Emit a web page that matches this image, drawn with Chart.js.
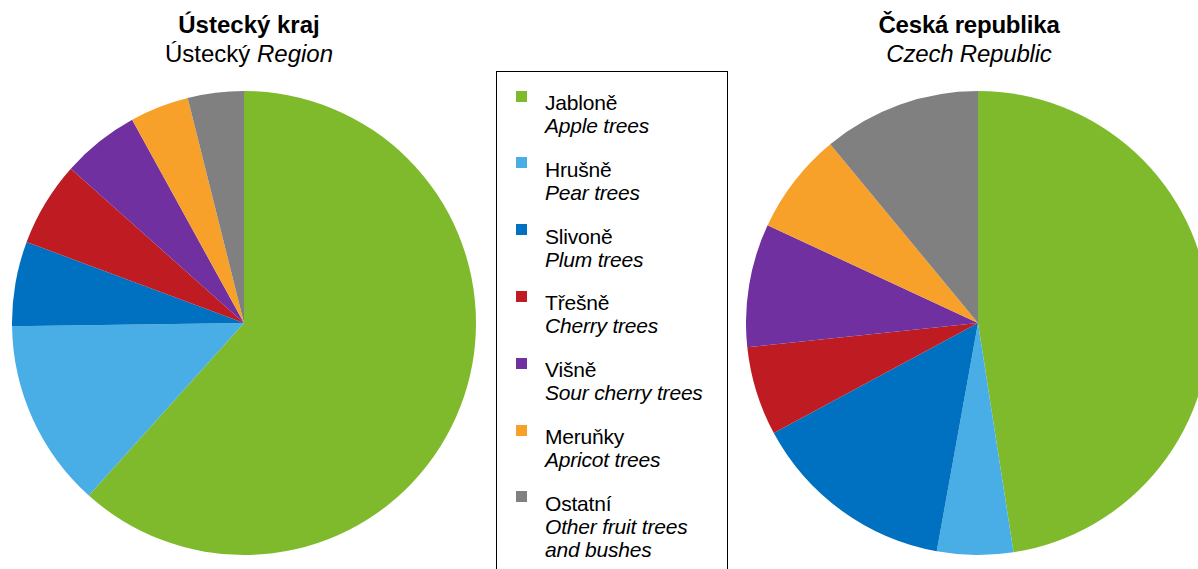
<!DOCTYPE html>
<html>
<head>
<meta charset="utf-8">
<script src="https://cdn.jsdelivr.net/npm/chart.js@4"></script>
<style>
  html, body { margin:0; padding:0; background:#fff; }
  body { width:1198px; height:569px; overflow:hidden; position:relative; font-family:"Liberation Sans", Arial, sans-serif; color:#000; }
  .title { position:absolute; width:400px; text-align:center; font-size:24px; line-height:29px; }
  .title b { font-weight:bold; }
  .pie { position:absolute; top:91px; }
  #legend { position:absolute; left:496px; top:71px; width:232px; height:520px; border:1.5px solid #000; box-sizing:border-box; }
  .item { position:absolute; left:48px; font-size:21px; line-height:23px; white-space:nowrap; letter-spacing:-0.2px; }
  .sw { position:absolute; left:19px; width:11px; height:11px; }
</style>
</head>
<body>
<div class="title" style="left:49px; top:10px;"><b>Ústecký kraj</b><br>Ústecký <i>Region</i></div>
<div class="title" style="left:769px; top:10px; letter-spacing:-0.2px;"><b>Česká republika</b><br><i>Czech Republic</i></div>
<canvas id="c1" class="pie" width="464" height="464" style="left:12px;"></canvas>
<canvas id="c2" class="pie" width="464" height="464" style="left:746px;"></canvas>
<div id="legend"></div>
<script>
const categoriesCz = ["Jabloně", "Hrušně", "Slivoně", "Třešně", "Višně", "Meruňky", "Ostatní"];
const categoriesEn = ["Apple trees", "Pear trees", "Plum trees", "Cherry trees", "Sour cherry trees", "Apricot trees", "Other fruit trees<br>and bushes"];
const usteckyValues = [61.6, 13.1, 5.9, 5.9, 5.4, 4.1, 3.9];
const czechValues = [47.6, 5.3, 14.3, 6.2, 8.6, 7.1, 11.0];
const sliceColors = ["#7FBA2D", "#4AAEE6", "#0070C0", "#BE1B22", "#7030A0", "#F7A12A", "#808080"];

function makePie(id, values) {
  new Chart(document.getElementById(id), {
    type: 'pie',
    data: {
      labels: categoriesCz,
      datasets: [{ data: values, backgroundColor: sliceColors, borderWidth: 0, hoverOffset: 0, offset: 0 }]
    },
    options: {
      responsive: false,
      animation: false,
      layout: { padding: 0 },
      plugins: { legend: { display: false }, tooltip: { enabled: false }, title: { display: false } },
      events: []
    }
  });
}
makePie('c1', usteckyValues);
makePie('c2', czechValues);

const legend = document.getElementById('legend');
categoriesCz.forEach((cz, i) => {
  const top = 18.5 + i * 66.8;
  const sw = document.createElement('div');
  sw.className = 'sw';
  sw.style.top = top + 'px';
  sw.style.background = sliceColors[i];
  legend.appendChild(sw);
  const it = document.createElement('div');
  it.className = 'item';
  it.style.top = (top + 0.5) + 'px';
  it.innerHTML = cz + '<br><i>' + categoriesEn[i] + '</i>';
  legend.appendChild(it);
});
</script>
</body>
</html>
